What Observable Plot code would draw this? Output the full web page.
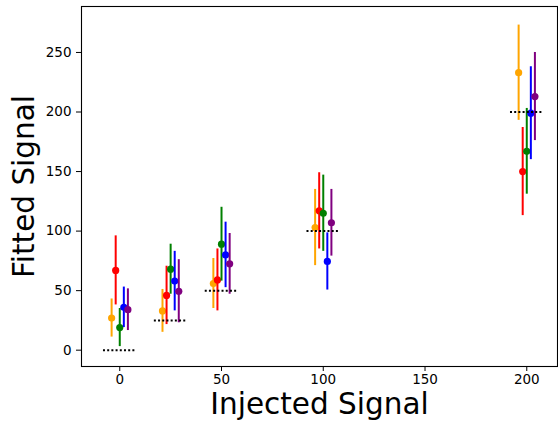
<!DOCTYPE html>
<html>
<head>
<meta charset="utf-8">
<script src="https://cdn.jsdelivr.net/npm/d3@7"></script>
<script src="https://cdn.jsdelivr.net/npm/@observablehq/plot@0.6"></script>
<style>
  html, body { margin: 0; padding: 0; background: #fff; }
</style>
</head>
<body>
<div id="chart"></div>
<script>
// ---- data ----
const injected = [0, 25, 50, 100, 200];
const seriesNames = ["orange", "red", "green", "blue", "purple"];
const seriesColors = ["#FFA500", "#FF0000", "#008000", "#0000FF", "#800080"];
const seriesOffsets = [-4, -2, 0, 2, 4];

const orangeVals = [27, 33, 56, 103, 233];
const orangeErr  = [16, 18, 21, 32, 40];
const redVals    = [67, 46, 59, 117, 150];
const redErr     = [29, 24.5, 26, 32, 37];
const greenVals  = [19, 68, 89, 115, 167];
const greenErr   = [16, 21, 31, 32, 36];
const blueVals   = [36, 58, 80, 74.5, 199];
const blueErr    = [17, 25, 27.5, 24, 39];
const purpleVals = [34, 49.5, 72.5, 107, 213];
const purpleErr  = [17.5, 26.5, 25.5, 28, 37];

const xTicks = [0, 50, 100, 150, 200];
const yTicks = [0, 50, 100, 150, 200, 250];
const xLabel = "Injected Signal";
const yLabel = "Fitted Signal";

const allVals = [orangeVals, redVals, greenVals, blueVals, purpleVals];
const allErr = [orangeErr, redErr, greenErr, blueErr, purpleErr];

const seriesMarks = [];
seriesNames.forEach((name, i) => {
  const rows = injected.map((inj, j) => ({
    series: name,
    x: inj + seriesOffsets[i],
    y: allVals[i][j],
    lo: allVals[i][j] - allErr[i][j],
    hi: allVals[i][j] + allErr[i][j]
  }));
  seriesMarks.push(
    Plot.ruleX(rows, {x: "x", y1: "lo", y2: "hi", stroke: seriesColors[i], strokeWidth: 2}),
    Plot.dot(rows, {x: "x", y: "y", r: 3.6, fill: seriesColors[i], stroke: "none"})
  );
});

const chart = Plot.plot({
  width: 558,
  height: 421,
  marginLeft: 81,
  marginRight: 1,
  marginTop: 6,
  marginBottom: 55,
  style: {fontFamily: "DejaVu Sans", background: "#fff", color: "#000", overflow: "visible"},
  x: {domain: [-18.8, 215.1]},
  y: {domain: [-13.7, 288.6]},
  marks: [
    ...seriesMarks,
    Plot.ruleY(injected, {y: d => d, x1: d => d - 8, x2: d => d + 8, stroke: "#000", strokeWidth: 2, strokeDasharray: "2,2.2"}),
    Plot.frame({stroke: "#000", strokeWidth: 1.1}),
    Plot.axisX({ticks: xTicks, tickSize: 5, tickPadding: 3, fontSize: 13.5, tickFormat: d3.format("d"), label: null, stroke: "#000"}),
    Plot.axisY({ticks: yTicks, tickSize: 5, tickPadding: 5, fontSize: 13.5, tickFormat: d3.format("d"), label: null, stroke: "#000"}),
    Plot.text([xLabel], {frameAnchor: "bottom", textAnchor: "middle", dy: 38.5, fontSize: 29.5, fill: "#000", lineAnchor: "middle"}),
    Plot.text([yLabel], {frameAnchor: "left", textAnchor: "middle", rotate: -90, dx: -57, fontSize: 29.5, fill: "#000", lineAnchor: "middle"})
  ]
});
document.getElementById("chart").appendChild(chart);
</script>
</body>
</html>
